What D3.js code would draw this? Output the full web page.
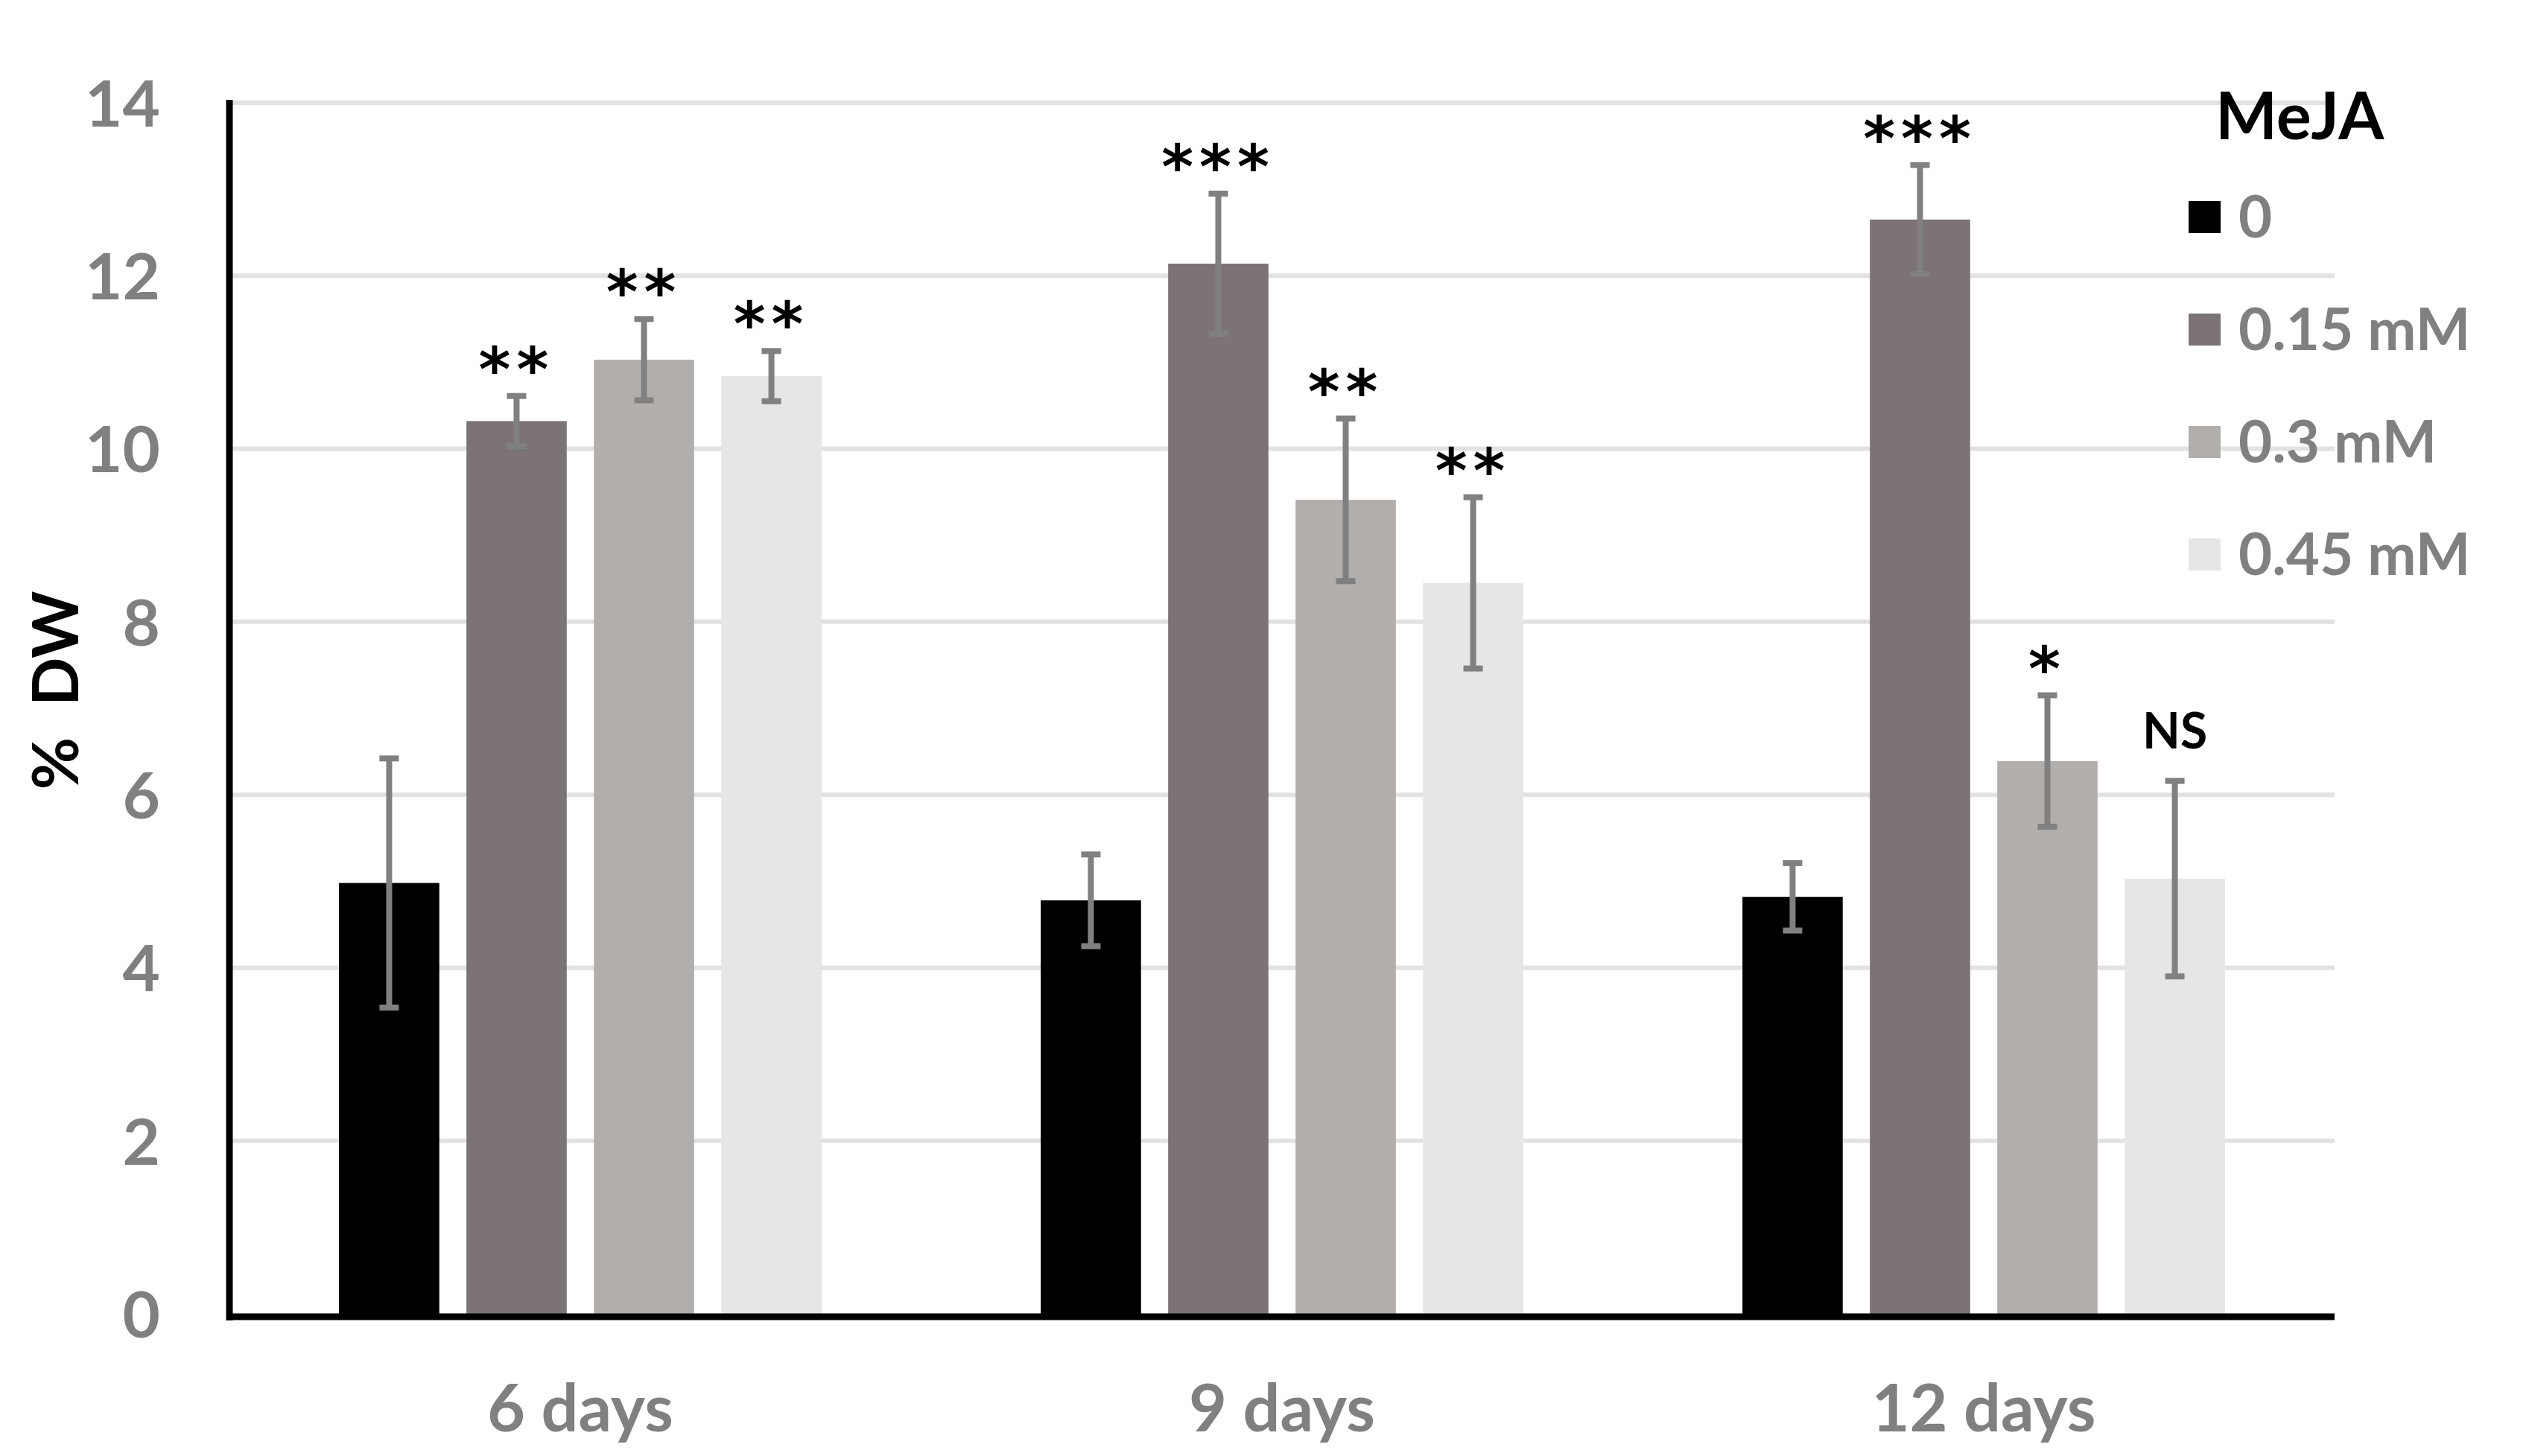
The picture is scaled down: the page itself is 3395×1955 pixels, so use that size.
<!DOCTYPE html>
<html>
<head>
<meta charset="utf-8">
<script src="https://cdn.jsdelivr.net/npm/d3@7"></script>
<style>
  body { margin: 0; background: #fff; }
  text { font-family: Lato, "Open Sans", sans-serif; font-weight: bold; }
</style>
</head>
<body>
<div id="chart"></div>
<script>
// data
const days = ["6 days", "9 days", "12 days"];
const doses = ["0", "0.15 mM", "0.3 mM", "0.45 mM"];
const colors = ["#000000", "#7b7374", "#b2aeac", "#e6e6e6"];

const mean0   = [4.98, 4.78, 4.82];
const mean015 = [10.32, 12.14, 12.65];
const mean03  = [11.03, 9.41, 6.39];
const mean045 = [10.84, 8.45, 5.03];

const err0   = [1.44, 0.53, 0.39];
const err015 = [0.29, 0.81, 0.63];
const err03  = [0.47, 0.94, 0.76];
const err045 = [0.29, 0.99, 1.13];

const sig0   = ["", "", ""];
const sig015 = ["**", "***", "***"];
const sig03  = ["**", "**", "*"];
const sig045 = ["**", "**", "NS"];

const yTicks = [0, 2, 4, 6, 8, 10, 12, 14];

const means = [mean0, mean015, mean03, mean045];
const errs = [err0, err015, err03, err045];
const sigs = [sig0, sig015, sig03, sig045];

const rows = [];
days.forEach((d, i) => {
  doses.forEach((s, j) => {
    rows.push({ day: d, dose: s, k: j, v: means[j][i], e: errs[j][i], sig: sigs[j][i] });
  });
});

const W = 3395, H = 1955;
const plotL = 308, plotR = 3134, plotT = 138, plotB = 1764;

const svg = d3.select("#chart").append("svg")
  .attr("width", W)
  .attr("height", H);

const x0 = d3.scaleBand().domain(days).range([plotL, plotR]);
const x1 = d3.scaleBand().domain(doses).range([0, x0.bandwidth()])
  .paddingInner(0.213).paddingOuter(0.86);
const y = d3.scaleLinear().domain([0, 14]).range([plotB, plotT]);

// gridlines
svg.append("g")
  .selectAll("line")
  .data(yTicks.filter(t => t > 0))
  .enter()
  .append("line")
  .attr("x1", plotL)
  .attr("x2", plotR)
  .attr("y1", d => y(d))
  .attr("y2", d => y(d))
  .attr("stroke", "#e2e2e2")
  .attr("stroke-width", 6)

// y axis labels
const yAxis = svg.append("g")
  .attr("transform", `translate(${plotL},0)`)
  .call(d3.axisLeft(y).tickValues(yTicks).tickSize(0).tickPadding(93));
yAxis.select(".domain").remove();
yAxis.selectAll("text")
  .attr("fill", "#808080")
  .style("font-size", "87px")
  .attr("dy", "0.36em");

// x axis labels
const xAxis = svg.append("g")
  .attr("transform", `translate(0,${plotB})`)
  .call(d3.axisBottom(x0).tickSize(0));
xAxis.select(".domain").remove();
xAxis.selectAll("text")
  .attr("fill", "#808080")
  .style("font-size", "88px")
  .attr("y", 158)
  .attr("dy", 0);

// bars
svg.append("g")
  .selectAll("rect")
  .data(rows)
  .enter()
  .append("rect")
  .attr("x", d => x0(d.day) + x1(d.dose))
  .attr("y", d => y(d.v))
  .attr("width", x1.bandwidth())
  .attr("height", d => y(0) - y(d.v))
  .attr("fill", d => colors[d.k])

// error bars
const eb = svg.append("g")
  .attr("stroke", "#808080")
  .attr("stroke-width", 8);
const cx = d => x0(d.day) + x1(d.dose) + x1.bandwidth() / 2;
eb.selectAll(".stem")
  .data(rows)
  .enter()
  .append("line")
  .attr("x1", cx).attr("x2", cx)
  .attr("y1", d => y(d.v + d.e))
  .attr("y2", d => y(d.v - d.e))
eb.selectAll(".capTop")
  .data(rows)
  .enter()
  .append("line")
  .attr("x1", d => cx(d) - 13).attr("x2", d => cx(d) + 13)
  .attr("y1", d => y(d.v + d.e)).attr("y2", d => y(d.v + d.e))
eb.selectAll(".capBot")
  .data(rows)
  .enter()
  .append("line")
  .attr("x1", d => cx(d) - 13).attr("x2", d => cx(d) + 13)
  .attr("y1", d => y(d.v - d.e)).attr("y2", d => y(d.v - d.e))

// significance marks
svg.append("g")
  .selectAll("text")
  .data(rows.filter(d => d.sig !== ""))
  .enter()
  .append("text")
  .attr("x", cx)
  .attr("y", d => d.sig === "NS" ? y(d.v + d.e) - 44 : y(d.v + d.e) - 7)
  .attr("text-anchor", "middle")
  .attr("fill", "#000")
  .style("font-family", d => d.sig === "NS" ? "Lato, sans-serif" : "'DejaVu Sans', sans-serif")
  .style("font-size", d => d.sig === "NS" ? "66px" : "82px")
  .style("letter-spacing", d => d.sig === "NS" ? "0px" : "8px")
  .text(d => d.sig)

// axis lines
svg.append("line")
  .attr("x1", plotL).attr("x2", plotL)
  .attr("y1", plotT - 4).attr("y2", plotB + 9)
  .attr("stroke", "#000").attr("stroke-width", 9)
svg.append("line")
  .attr("x1", plotL - 4).attr("x2", plotR)
  .attr("y1", plotB + 4).attr("y2", plotB + 4)
  .attr("stroke", "#000").attr("stroke-width", 9)

// y title
svg.append("text")
  .attr("transform", "translate(105,927) rotate(-90)")
  .attr("text-anchor", "middle")
  .attr("fill", "#000")
  .style("font-size", "86px")
  .style("white-space", "pre")
  .text("%  DW")

// legend
const lg = svg.append("g");
lg.append("text")
  .attr("x", 2974).attr("y", 187)
  .attr("fill", "#000")
  .style("font-size", "88px")
  .text("MeJA")
const item = lg.selectAll(".item")
  .data(doses)
  .enter()
  .append("g")
  .attr("transform", (d, i) => `translate(2938,${291 + i * 151})`);
item.append("rect")
  .attr("x", 0).attr("y", -21)
  .attr("width", 43).attr("height", 43)
  .attr("fill", (d, i) => colors[i]);
item.append("text")
  .attr("x", 67).attr("y", 0)
  .attr("dy", "0.36em")
  .attr("fill", "#808080")
  .style("font-size", "78px")
  .text(d => d)
</script>
</body>
</html>
